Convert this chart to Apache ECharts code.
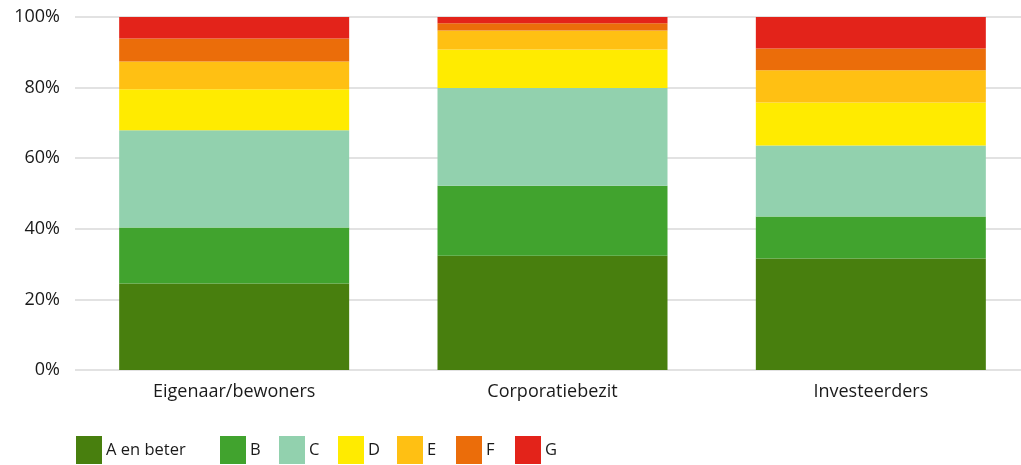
<!DOCTYPE html>
<html>
<head>
<meta charset="utf-8">
<script src="https://cdn.jsdelivr.net/npm/echarts@6/dist/echarts.min.js"></script>
<style>
html,body{margin:0;padding:0;background:#fff;}
#chart{width:1021px;height:465px;}
</style>
</head>
<body>
<div id="chart"></div>
<script>
const categories = ['Eigenaar/bewoners', 'Corporatiebezit', 'Investeerders'];
const seriesNames = ['A en beter', 'B', 'C', 'D', 'E', 'F', 'G'];
const valA = [24.5, 32.4, 31.6];
const valB = [15.9, 19.8, 11.9];
const valC = [27.5, 27.7, 20.1];
const valD = [11.6, 10.9, 12.2];
const valE = [7.9, 5.4, 9.1];
const valF = [6.5, 2.0, 6.2];
const valG = [6.1, 1.8, 8.9];
const yTicks = [0, 20, 40, 60, 80, 100];

const values = [valA, valB, valC, valD, valE, valF, valG];
const colors = ['#487f0e', '#41a32e', '#92d1ae', '#ffeb00', '#ffc013', '#eb6d0a', '#e3231a'];
const legendLeft = [76, 220, 279, 338, 397, 456, 515];
const font = 'Open Sans';

const chart = echarts.init(document.getElementById('chart'), null, {renderer: 'canvas'});
chart.setOption({
  animation: false,
  textStyle: {fontFamily: font},
  grid: {left: 75, width: 955, top: 17, height: 353, containLabel: false, outerBoundsMode: 'none'},
  xAxis: {
    type: 'category',
    data: categories,
    axisLine: {show: false},
    axisTick: {show: false},
    axisLabel: {color: '#1a1a1a', fontSize: 18, fontFamily: font, margin: 13}
  },
  yAxis: {
    type: 'value',
    min: yTicks[0],
    max: yTicks[yTicks.length - 1],
    interval: 20,
    axisLine: {show: false},
    axisTick: {show: false},
    splitLine: {lineStyle: {color: '#d9d9d9', width: 1.5}},
    axisLabel: {color: '#1a1a1a', fontSize: 18, fontFamily: font, margin: 15, formatter: v => v + '%'}
  },
  legend: seriesNames.map((n, i) => ({
    data: [n],
    left: legendLeft[i],
    top: 436,
    padding: 0,
    itemWidth: 26,
    itemHeight: 28,
    itemGap: 0,
    icon: 'rect',
    textStyle: {color: '#1a1a1a', fontSize: 16.5, fontFamily: font, padding: [0, 0, 0, -1]},
    selectedMode: false
  })),
  series: seriesNames.map((n, i) => ({
    name: n,
    type: 'bar',
    stack: 'total',
    barWidth: 230,
    itemStyle: {color: colors[i]},
    data: values[i]
  }))
});
</script>
</body>
</html>
